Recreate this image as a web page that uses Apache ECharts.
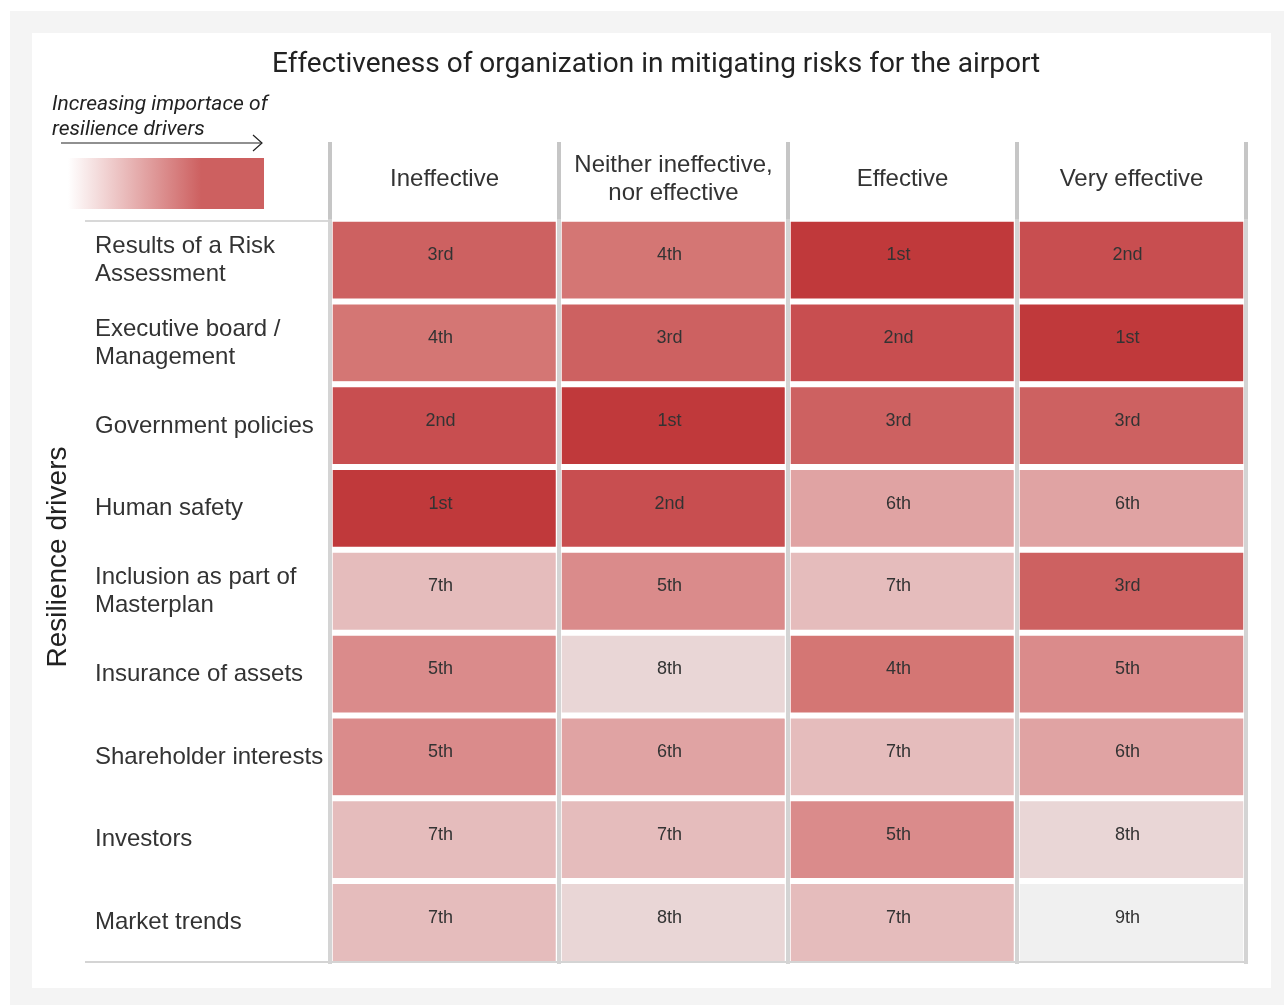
<!DOCTYPE html>
<html>
<head>
    <meta charset="utf-8">
    <title>ECharts</title>
    <script src="https://cdn.jsdelivr.net/npm/echarts@6/dist/echarts.min.js"></script>
    <style>
        html, body { margin: 0; padding: 0; background: #fff; }
    </style>
</head>
<body>
    <div id="main" style="width: 1284px;height:1005px;"></div>
    <script type="text/javascript">
        // columns (effectiveness) and rows (resilience drivers)
        var columns = ['Ineffective', 'Neither ineffective,\nnor effective', 'Effective', 'Very effective'];
        var drivers = [
            'Results of a Risk\nAssessment',
            'Executive board /\nManagement',
            'Government policies',
            'Human safety',
            'Inclusion as part of\nMasterplan',
            'Insurance of assets',
            'Shareholder interests',
            'Investors',
            'Market trends'
        ];
        // rank of each driver, one array per column
        var ineffective = [3, 4, 2, 1, 7, 5, 5, 7, 7];
        var neither     = [4, 3, 1, 2, 5, 8, 6, 7, 8];
        var effective   = [1, 2, 3, 6, 7, 4, 7, 5, 7];
        var veryEff     = [2, 1, 3, 6, 3, 5, 6, 8, 9];
        // colour for rank 1 .. 9
        var rankColors = ['#c0393b', '#c84e50', '#cd6161', '#d47674', '#da8b8b', '#e0a3a3', '#e5bcbc', '#e9d6d6', '#f0f0f0'];

        var cols = [ineffective, neither, effective, veryEff];
        var data = [];
        cols.forEach(function (arr, c) {
            arr.forEach(function (v, r) {
                data.push([c, r, v]);
            });
        });

        function ordinal(n) {
            if (n === 1) return '1st';
            if (n === 2) return '2nd';
            if (n === 3) return '3rd';
            return n + 'th';
        }

        var myChart = echarts.init(document.getElementById('main'));

        var option = {
            backgroundColor: '#fff',
            animation: false,
            title: {
                text: 'Effectiveness of organization in mitigating risks for the airport',
                left: 267,
                top: 46,
                textStyle: {
                    fontFamily: 'Roboto',
                    fontSize: 28,
                    fontWeight: 'normal',
                    color: '#222'
                }
            },
            grid: {
                left: 330,
                top: 219,
                width: 916,
                height: 745
            },
            visualMap: {
                show: false,
                type: 'continuous',
                min: 1,
                max: 9,
                dimension: 2,
                inRange: { color: rankColors }
            },
            xAxis: {
                type: 'category',
                position: 'top',
                data: columns,
                z: 5,
                axisLine: { show: false },
                axisTick: {
                    show: true,
                    interval: 0,
                    length: 77,
                    lineStyle: { color: '#c6c6c6', width: 4 }
                },
                axisLabel: {
                    interval: 0,
                    margin: 40,
                    verticalAlign: 'middle',
                    fontFamily: 'Liberation Sans',
                    fontSize: 24,
                    lineHeight: 28,
                    color: '#333'
                },
                splitLine: {
                    show: true,
                    interval: 0,
                    lineStyle: { color: '#d4d4d4', width: 4 }
                }
            },
            yAxis: {
                type: 'category',
                inverse: true,
                data: drivers,
                axisLine: { show: false },
                axisTick: { show: false },
                axisLabel: {
                    interval: 0,
                    align: 'left',
                    margin: 235,
                    verticalAlign: 'middle',
                    fontFamily: 'Liberation Sans',
                    fontSize: 24,
                    lineHeight: 28,
                    color: '#333',
                    padding: [0, 0, 14, 0]
                },
                splitLine: { show: false }
            },
            series: [{
                type: 'heatmap',
                data: data,
                itemStyle: {
                    borderColor: '#fff',
                    borderWidth: 6
                },
                label: {
                    show: true,
                    offset: [-4, -5],
                    fontFamily: 'Liberation Sans',
                    fontSize: 18,
                    color: '#333',
                    formatter: function (p) { return ordinal(p.value[2]); }
                },
                emphasis: { disabled: true }
            }],
            graphic: [
                // page background panels
                { type: 'rect', z: -10, shape: { x: 10, y: 11, width: 1274, height: 994 }, style: { fill: '#f4f4f4' } },
                { type: 'rect', z: -9, shape: { x: 32, y: 33, width: 1239, height: 955 }, style: { fill: '#fff' } },
                // header / bottom rules
                { type: 'line', z: 10, shape: { x1: 85, y1: 221, x2: 328, y2: 221 }, style: { stroke: '#d8d8d8', lineWidth: 2 } },
                { type: 'line', z: 10, shape: { x1: 85, y1: 962, x2: 1248, y2: 962 }, style: { stroke: '#d4d4d4', lineWidth: 2 } },
                // legend of importance
                {
                    type: 'text', left: 52, top: 92,
                    style: {
                        text: 'Increasing importace of\nresilience drivers',
                        font: 'italic 21px Roboto',
                        lineHeight: 25,
                        fill: '#222'
                    }
                },
                { type: 'line', shape: { x1: 61, y1: 143, x2: 262, y2: 143 }, style: { stroke: '#222', lineWidth: 1.2 } },
                { type: 'polyline', shape: { points: [[253, 135], [262, 143], [253, 151]] }, style: { stroke: '#222', lineWidth: 1.2, fill: null } },
                {
                    type: 'rect',
                    shape: { x: 68, y: 158, width: 196, height: 51 },
                    style: {
                        fill: new echarts.graphic.LinearGradient(0, 0, 1, 0, [
                            { offset: 0, color: 'rgba(255,255,255,1)' },
                            { offset: 0.68, color: '#cd6060' },
                            { offset: 1, color: '#cd6060' }
                        ])
                    }
                },
                // axis title
                {
                    type: 'text',
                    x: 58, y: 557,
                    rotation: Math.PI / 2,
                    style: {
                        text: 'Resilience drivers',
                        font: '28px "Liberation Sans"',
                        fill: '#222',
                        align: 'center',
                        verticalAlign: 'middle'
                    }
                }
            ]
        };

        myChart.setOption(option);
    </script>
</body>
</html>
